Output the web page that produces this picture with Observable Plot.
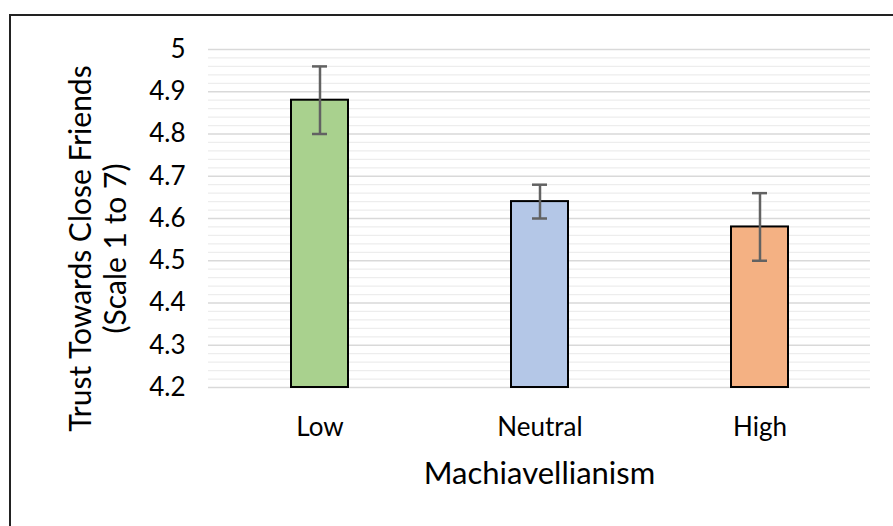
<!DOCTYPE html>
<html>
<head>
<meta charset="utf-8">
<script src="https://cdn.jsdelivr.net/npm/d3@7"></script>
<script src="https://cdn.jsdelivr.net/npm/@observablehq/plot@0.6"></script>
<style>
  html, body { margin: 0; padding: 0; background: #fff; overflow: hidden; }
  #wrap { position: relative; width: 893px; height: 526px; overflow: hidden; }
  #frame { position: absolute; left: 9px; top: 14px; width: 920px; height: 600px; border: 2px solid #222; box-sizing: border-box; pointer-events: none; }
  #chart { position: absolute; left: 0; top: 0; }
</style>
</head>
<body>
<div id="wrap"><div id="chart"></div><div id="frame"></div></div>
<script>
const categories = ["Low", "Neutral", "High"];
const means = [4.88, 4.64, 4.58];
const errLow = [4.80, 4.60, 4.50];
const errHigh = [4.96, 4.68, 4.66];
const colors = ["#a9d18e", "#b4c7e7", "#f4b183"];
const yTicks = [4.2, 4.3, 4.4, 4.5, 4.6, 4.7, 4.8, 4.9, 5];
const yTickLabels = ["4.2", "4.3", "4.4", "4.5", "4.6", "4.7", "4.8", "4.9", "5"];
const yMin = 4.2, yMax = 5;
const xLabel = "Machiavellianism";
const yLabel = "Trust Towards Close Friends\n(Scale 1 to 7)";

const data = categories.map((c, i) => ({cat: c, mean: means[i], lo: errLow[i], hi: errHigh[i], color: colors[i]}));
const minor = d3.range(0, 41).map(i => +(yMin + i * 0.02).toFixed(2)).filter(v => !yTicks.some(t => Math.abs(t - v) < 1e-9));

const font = "Lato, 'Open Sans', sans-serif";

const chart = Plot.plot({
  width: 893,
  height: 526,
  marginLeft: 208,
  marginRight: 23,
  marginTop: 49,
  marginBottom: 139,
  style: {fontFamily: font, background: "transparent", color: "#000"},
  x: {domain: categories, padding: 0.742, paddingOuter: 0.371, align: 0.5, label: null},
  y: {domain: [yMin, yMax], label: null},
  marks: [
    Plot.ruleY(minor, {stroke: "#ededed", strokeWidth: 1.3}),
    Plot.ruleY(yTicks, {stroke: "#d9d9d9", strokeWidth: 1.5}),
    Plot.barY(data, {x: "cat", y1: yMin, y2: "mean", fill: "color", stroke: "#000", strokeWidth: 2}),
    Plot.ruleX(data, {x: "cat", y1: "lo", y2: "hi", stroke: "#626262", strokeWidth: 2.5}),
    Plot.tickY(data, {x: "cat", y: "lo", stroke: "#626262", strokeWidth: 2.5, insetLeft: 21, insetRight: 21}),
    Plot.tickY(data, {x: "cat", y: "hi", stroke: "#626262", strokeWidth: 2.5, insetLeft: 21, insetRight: 21}),
    Plot.axisY({ticks: yTicks, tickFormat: (d, i) => yTickLabels[i], tickSize: 0, tickPadding: 23, fontSize: 26, label: null}),
    Plot.axisX({tickSize: 0, tickPadding: 30, fontSize: 26, label: null}),
    Plot.text([xLabel], {frameAnchor: "bottom", dy: 87, text: d => d, fontSize: 31, fill: "#000", lineAnchor: "middle"}),
    Plot.text([yLabel], {frameAnchor: "left", dx: -111, dy: 30, rotate: -90, text: d => d, fontSize: 30, lineHeight: 1.17, fill: "#000", lineAnchor: "middle", textAnchor: "middle"})
  ]
});
document.getElementById("chart").appendChild(chart);
</script>
</body>
</html>
